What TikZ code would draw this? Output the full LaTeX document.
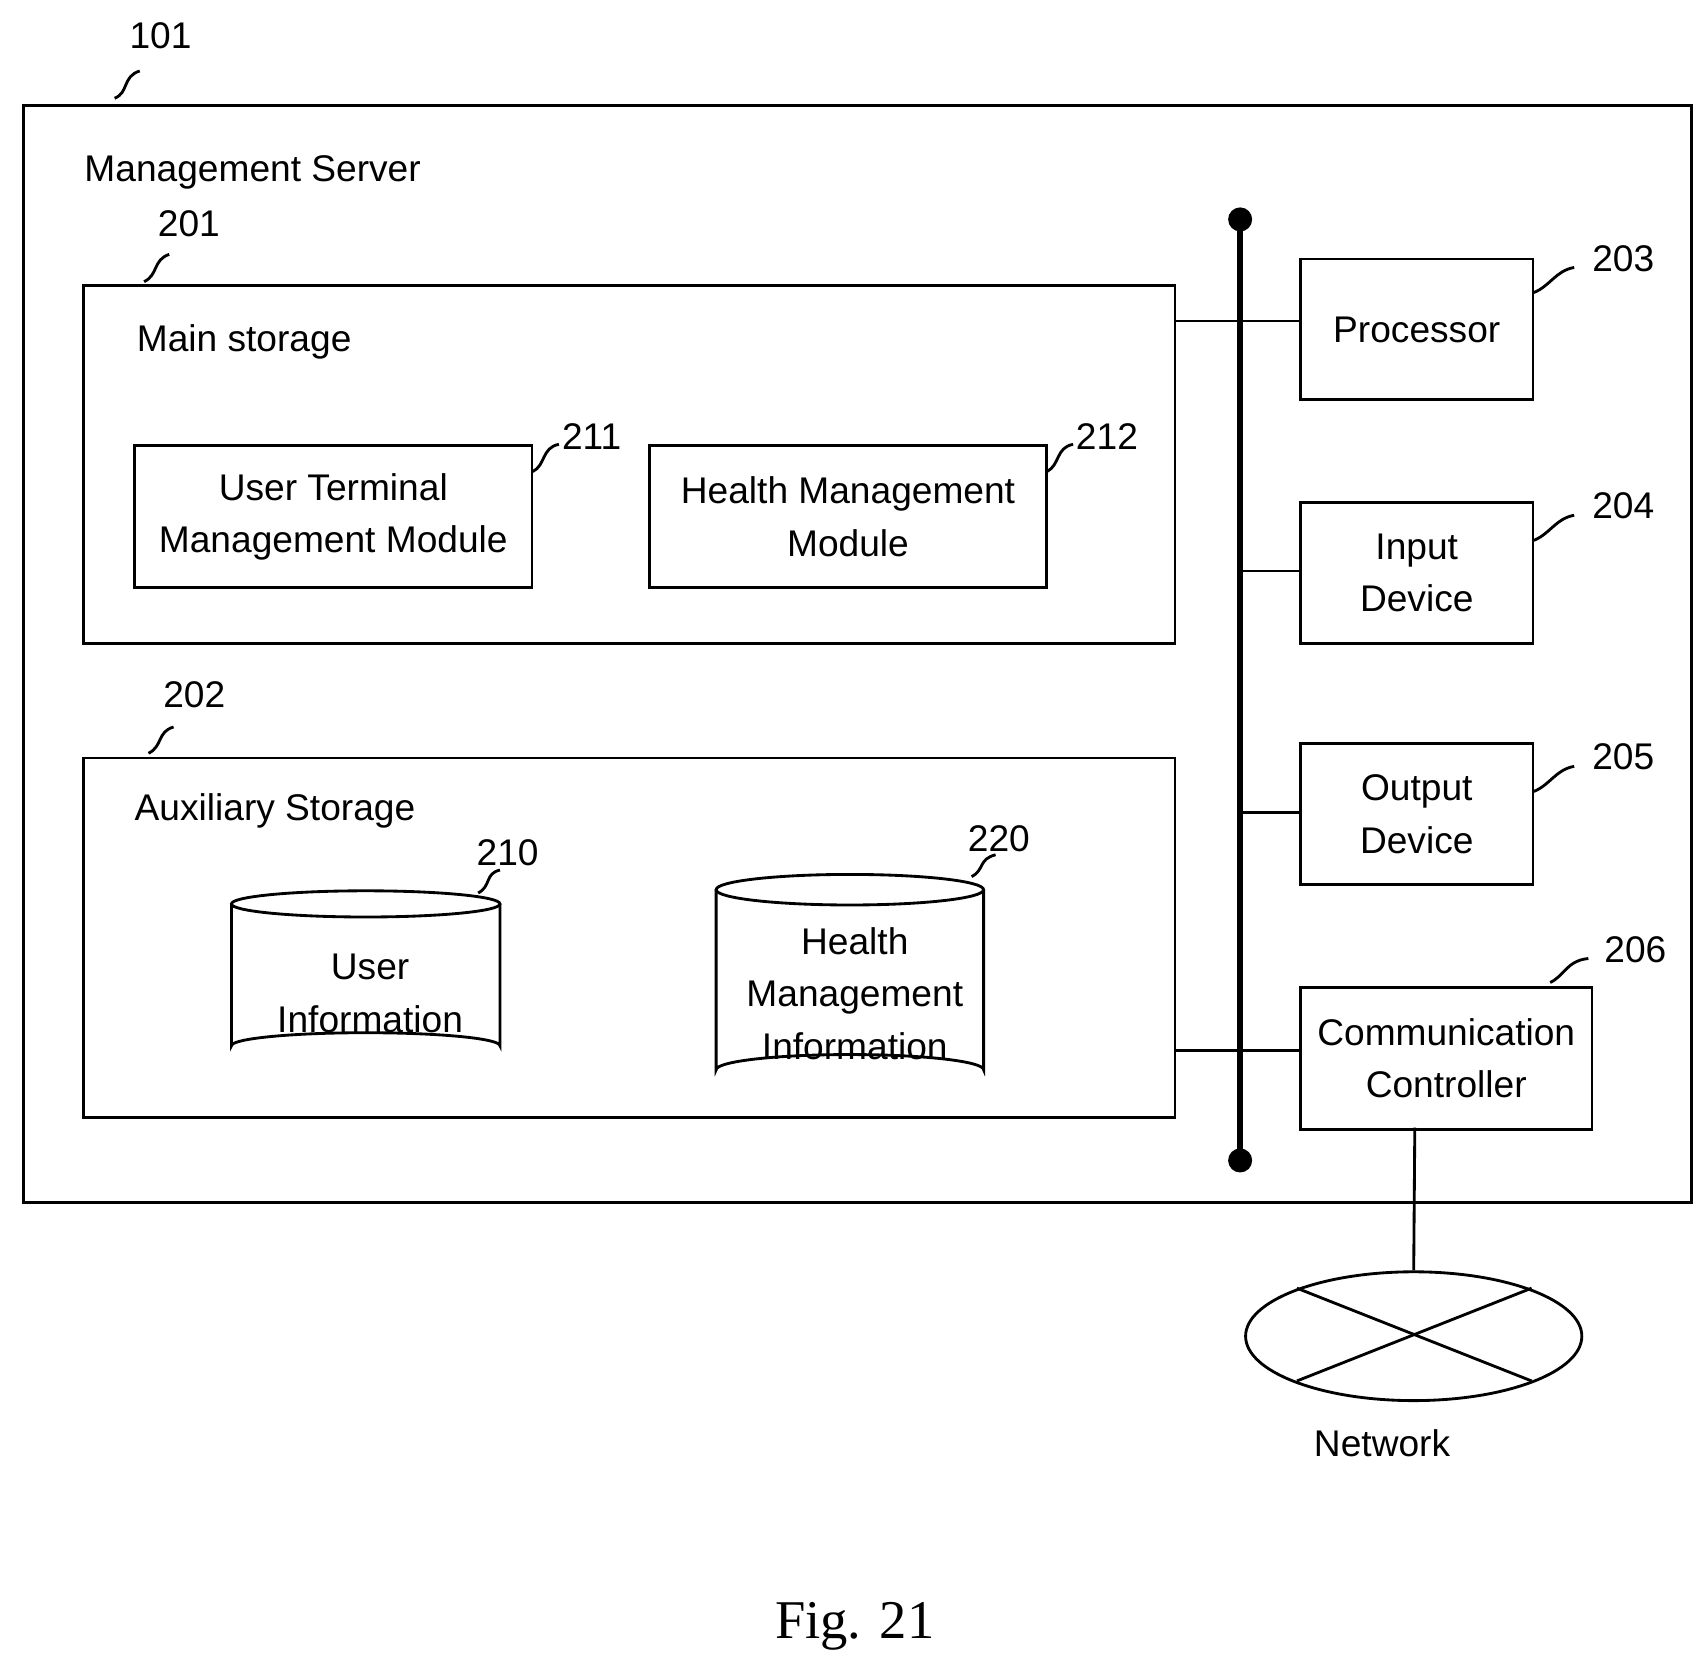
\documentclass[tikz,border=0pt]{standalone}
\usepackage{fontspec}
\setmainfont{Liberation Sans}
\newfontfamily\figfont{Liberation Serif}
\usetikzlibrary{shapes.geometric}
\begin{document}
\begin{tikzpicture}[x=0.5pt,y=-0.5pt,
  every node/.style={font=\fontsize{17}{21}\selectfont},
  box/.style={draw,line width=1.3pt,inner sep=0pt},
  ln/.style={line width=1.3pt},
  sq/.style={line width=1.3pt},
  txt/.style={align=center,inner sep=0pt}]
\useasboundingbox (0,0) rectangle (1560,1530);
% outer
\node[box,minimum width=764pt,minimum height=502.5pt,anchor=north west] (srv) at (20,95) {};
\node[txt,anchor=west] (srvl) at (77,158) {Management Server};
\node[txt] (n101) at (147,33) {101};
\draw[sq] (105,90) .. controls (118,85) and (112,70) .. (128,65);
% main storage
\node[box,minimum width=500pt,minimum height=164pt,anchor=north west] (ms) at (75,260) {};
\node[txt,anchor=west] (msl) at (125,313) {Main storage};
\node[txt] (n201) at (173,205) {201};
\draw[sq] (132,258) .. controls (145,252) and (140,238) .. (155,233);
\node[box,minimum width=182pt,minimum height=65pt,anchor=north west,txt] (utm) at (122,407) {};
\node[txt] at (utm.center) {User Terminal\\[3pt]Management Module};
\node[txt] (n211) at (542,400) {211};
\draw[sq] (488,432) .. controls (500,426) and (496,410) .. (512,407);
\node[box,minimum width=181.5pt,minimum height=65pt,anchor=north west] (hmm) at (594,407) {};
\node[txt] at (hmm.center) {Health Management\\[3pt]Module};
\node[txt] (n212) at (1014,400) {212};
\draw[sq] (959,432) .. controls (971,426) and (967,410) .. (983,407);
% aux storage
\node[box,minimum width=500pt,minimum height=164.5pt,anchor=north west] (aux) at (75,693) {};
\node[txt,anchor=west] (auxl) at (123,743) {Auxiliary Storage};
\node[txt] (n202) at (178,636) {202};
\draw[sq] (136,690) .. controls (149,684) and (144,670) .. (159,666);
% cylinders
\node[txt] (ui) at (339,910) {User\\[3pt]Information};
\draw[ln] (212,828) -- (212,958) arc[start angle=180,end angle=360,x radius=123,y radius=12] -- (458,828);
\draw[ln] (335,828) ellipse[x radius=123,y radius=12];
\node[txt] (n210) at (465,781) {210};
\draw[sq] (438,818) .. controls (450,812) and (444,800) .. (458,797);
\node[txt] (hmi) at (783,910) {Health\\[3pt]Management\\[3pt]Information};
\draw[ln] (656,815) -- (656,980) arc[start angle=180,end angle=360,x radius=122.5,y radius=14] -- (901,815);
\draw[ln] (778.5,815) ellipse[x radius=122.5,y radius=14];
\node[txt] (n220) at (915,768) {220};
\draw[sq] (890,803) .. controls (902,797) and (896,787) .. (912,783);
% bus
\coordinate (bt) at (1136,201);
\coordinate (bb) at (1136,1063);
\draw[line width=3pt] (bt) -- (bb);
\fill (bt) circle (11);
\fill (bb) circle (11);
% devices
\node[box,minimum width=106.5pt,minimum height=64.5pt,anchor=north west] (proc) at (1190,236) {};
\node[txt] at (proc.center) {Processor};
\node[txt] (n203) at (1487,237) {203};
\draw[sq] (1405,268) .. controls (1420,262) and (1425,248) .. (1442,245);
\node[box,minimum width=106.5pt,minimum height=64.5pt,anchor=north west] (inp) at (1190,459) {};
\node[txt] at (inp.center) {Input\\[3pt]Device};
\node[txt] (n204) at (1487,463) {204};
\draw[sq] (1405,495) .. controls (1420,489) and (1425,475) .. (1442,472);
\node[box,minimum width=106.5pt,minimum height=64.5pt,anchor=north west] (outd) at (1190,680) {};
\node[txt] at (outd.center) {Output\\[3pt]Device};
\node[txt] (n205) at (1487,693) {205};
\draw[sq] (1405,725) .. controls (1420,719) and (1425,705) .. (1442,702);
\node[box,minimum width=133.5pt,minimum height=65pt,anchor=north west] (comm) at (1190,903) {};
\node[txt] at (comm.center) {Communication\\[3pt]Controller};
\node[txt] (n206) at (1498,870) {206};
\draw[sq] (1420,900) .. controls (1433,894) and (1435,880) .. (1455,878);
% connections
\draw[ln] (1075,294) -- (proc.west |- 0,294);
\draw[ln] (1136,523) -- (inp.west |- 0,523);
\draw[ln] (1136,744) -- (outd.west |- 0,744);
\draw[ln] (1075,962) -- (comm.west |- 0,962);
% network
\node[draw,ellipse,line width=1.3pt,minimum width=154pt,minimum height=59pt,inner sep=0pt] (net) at (1295,1224) {};
\draw[ln] (1296,1033) -- (net.north);
\draw[ln] (1188,1180) -- (1403,1265);
\draw[ln] (1188,1265) -- (1403,1180);
\node[txt] (netl) at (1266,1322) {Network};
\node[txt,font=\figfont\fontsize{25}{30}\selectfont] (fig) at (783,1490) {Fig. 21};
\end{tikzpicture}
\end{document}
